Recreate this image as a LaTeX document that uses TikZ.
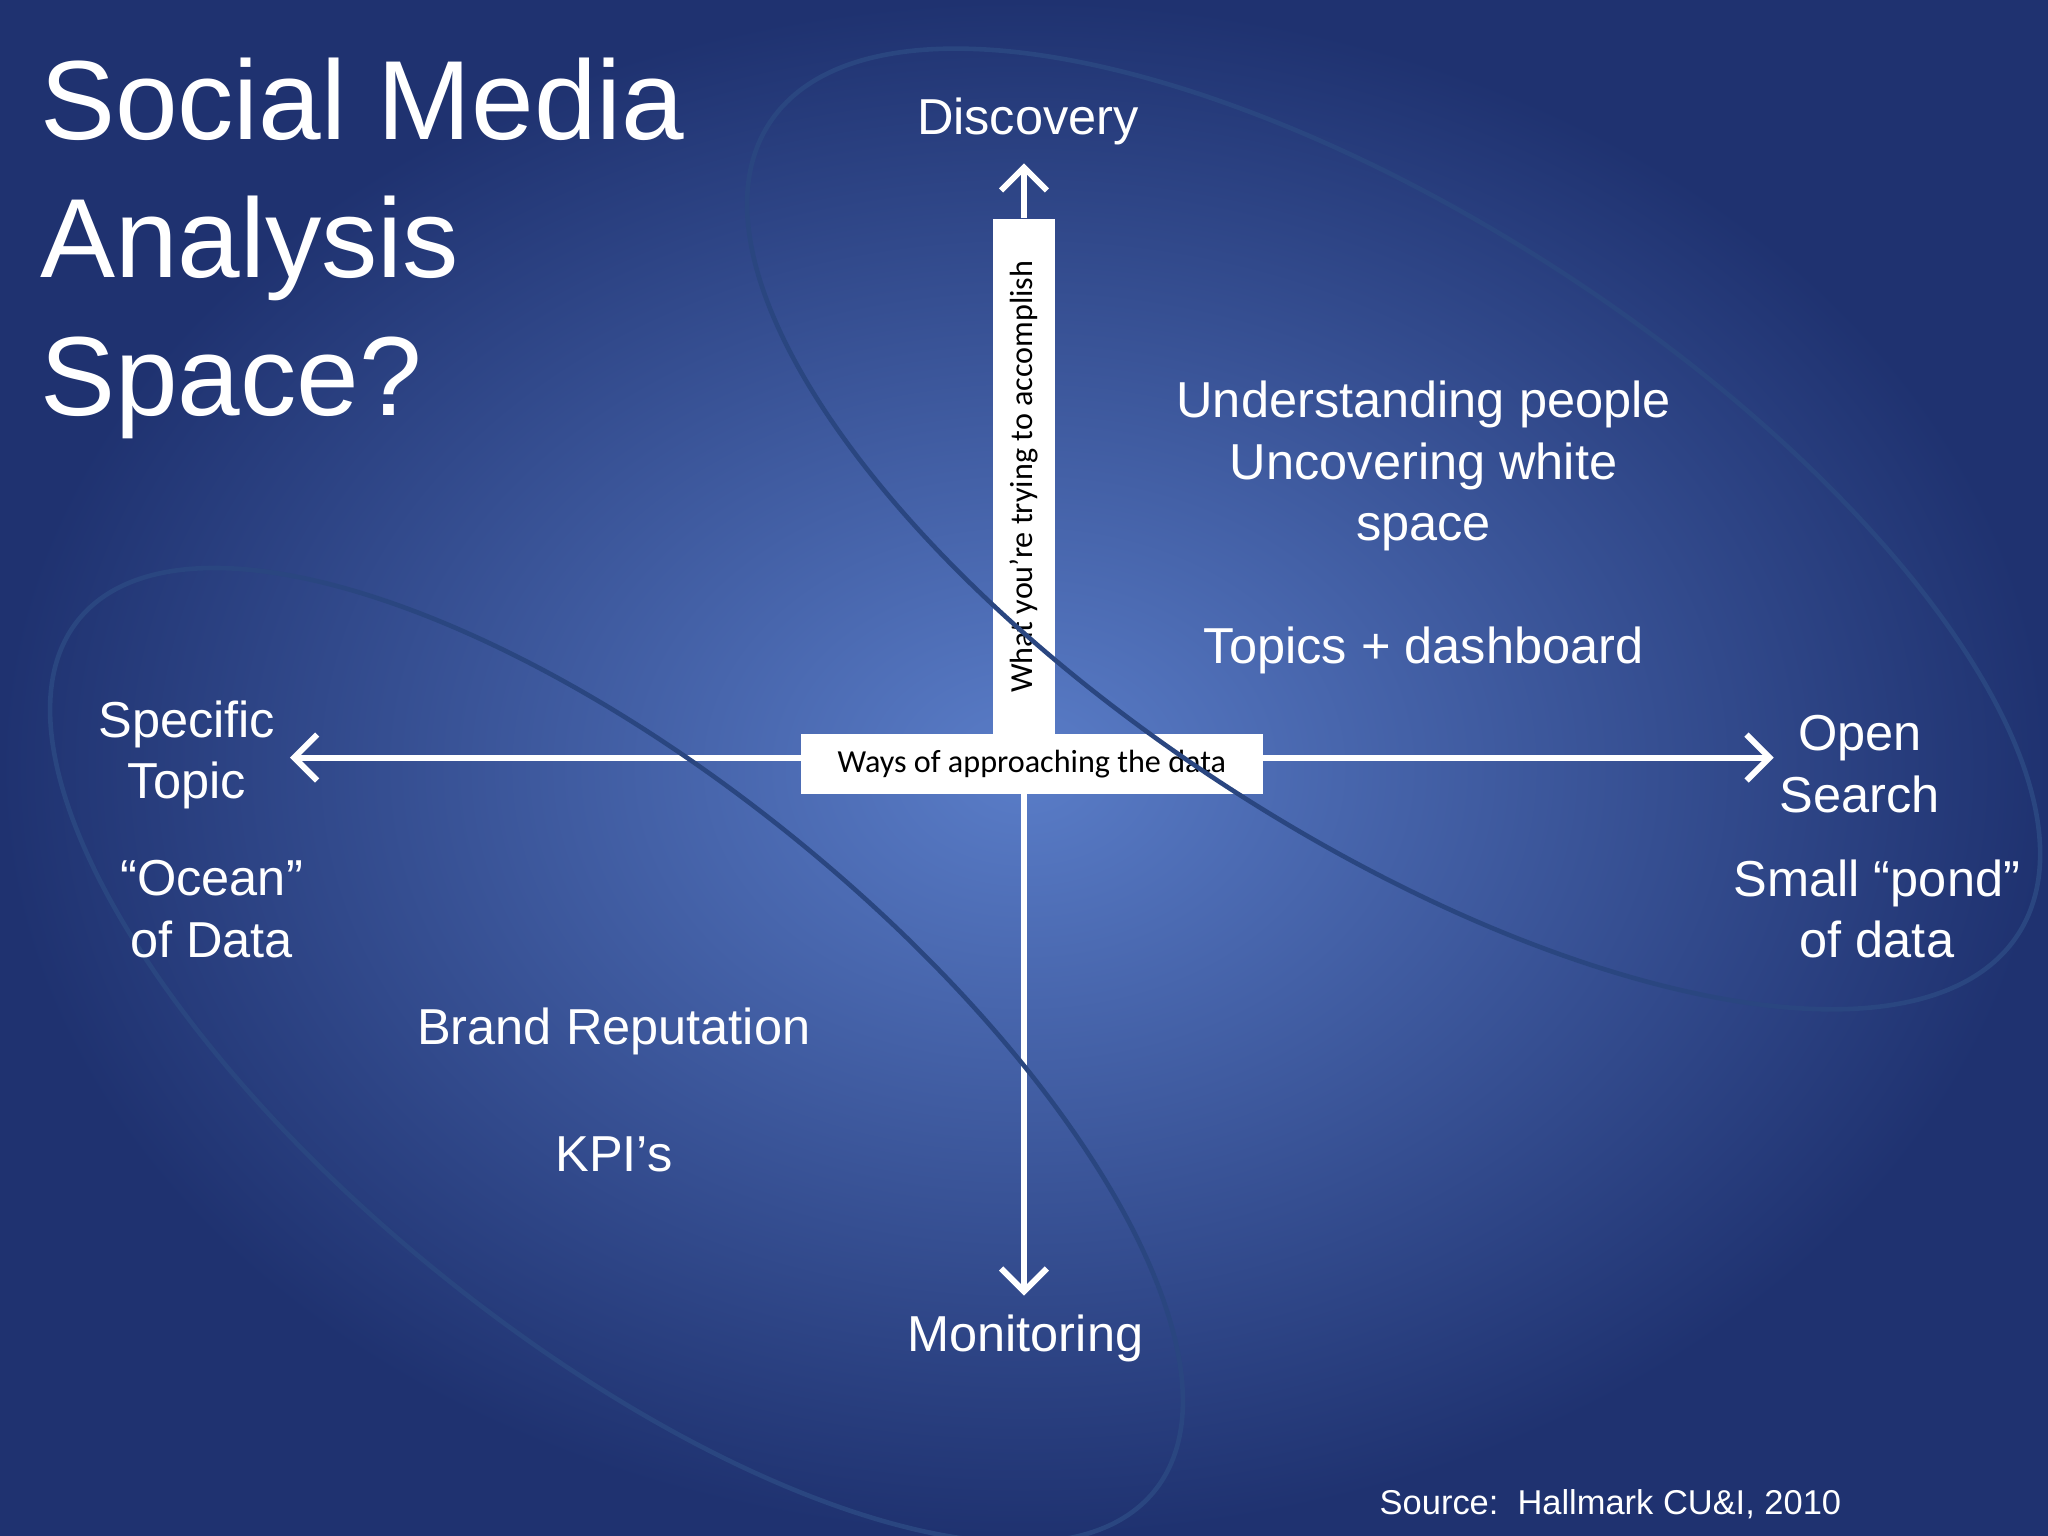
\documentclass[tikz,border=0pt]{standalone}
\usepackage{fontspec}
\setmainfont{Liberation Sans}
\newfontfamily\boxfont{Carlito}
\usetikzlibrary{arrows.meta}
\begin{document}
\begin{tikzpicture}[x=0.01cm,y=-0.01cm,
  lbl/.style={text=white,font=\fontsize{11}{13.4}\selectfont,align=center,inner sep=0},
  axis/.style={draw=white,line width=1.3pt,-{Straight Barb[length=5pt,width=10pt,line width=1.3pt]}},
  wbox/.style={fill=white,draw=none},
  ell/.style={draw=ellc,line width=1pt}]
\definecolor{bgin}{HTML}{5A7DC8}
\definecolor{bgout}{HTML}{1F3270}
\definecolor{ellc}{HTML}{2A4680}
\useasboundingbox (0,0) rectangle (1568,1176);
\shade[inner color=bgin,outer color=bgout] (0,0) rectangle (1568,1176);
% boxes
\node[wbox,minimum width=0.48cm,minimum height=3.94cm,inner sep=0] (vbox) at (784,365) {};
\node[rotate=90,font=\boxfont\fontsize{7}{8}\selectfont] (vtxt) at (vbox.center) {What you’re trying to accomplish};
\coordinate (c) at (784,580);
\coordinate (top) at (784,125);
\coordinate (bot) at (784,992);
\coordinate (lft) at (222,580);
\coordinate (rgt) at (1358,580);
\draw[axis] (vbox.north) -- (top);
\draw[axis] (c) -- (bot);
\draw[axis] (c) -- (lft);
\draw[axis] (c) -- (rgt);
\node[wbox,minimum width=3.53cm,minimum height=0.46cm,inner sep=0,font=\boxfont\fontsize{7}{8}\selectfont] (hbox) at (790,585) {Ways of approaching the data};
% ellipses
\draw[ell] (1067,405) ellipse [x radius=570,y radius=235,rotate=-33];
\draw[ell] (472,808) ellipse [x radius=530,y radius=215,rotate=-39];
% texts
\node[text=white,anchor=north west,align=left,inner sep=0,font=\fontsize{24.5}{30}\selectfont] (title) at (30,44) {Social Media\\Analysis\\Space?};
\node[lbl] (disc) at (787,93) {Discovery};
\node[lbl] (mon) at (785,1025) {Monitoring};
\node[lbl] (und) at (1090,357) {Understanding people\\Uncovering white\\space};
\node[lbl] (top2) at (1090,498) {Topics + dashboard};
\node[lbl] (spec) at (143,578) {Specific\\Topic};
\node[lbl] (ocean) at (162,696) {“Ocean”\\of Data};
\node[lbl] (open) at (1424,585) {Open\\Search};
\node[lbl] (pond) at (1437,696) {Small “pond”\\of data};
\node[lbl] (brand) at (470,790) {Brand Reputation};
\node[lbl] (kpi) at (470,884) {KPI’s};
\node[text=white,inner sep=0,font=\fontsize{7.5}{9}\selectfont] (src) at (1233,1152) {Source:\ \ Hallmark CU\&I, 2010};
\end{tikzpicture}
\end{document}
